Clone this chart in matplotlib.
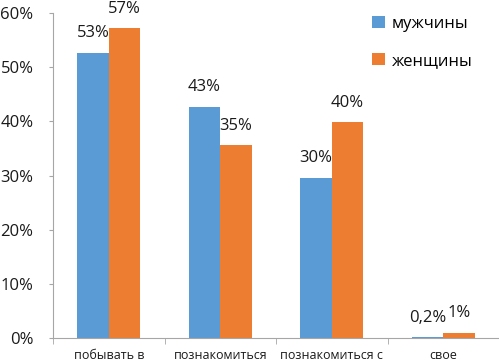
import numpy as np
import matplotlib
matplotlib.use('Agg')
import matplotlib.pyplot as plt

# data
categories = ['побывать в', 'познакомиться', 'познакомиться с', 'свое']
men = [52.7, 42.7, 29.6, 0.2]
women = [57.2, 35.6, 39.9, 1.0]
men_labels = ['53%', '43%', '30%', '0,2%']
women_labels = ['57%', '35%', '40%', '1%']
series_names = ['мужчины', 'женщины']

plt.rcParams['font.family'] = ['Open Sans', 'DejaVu Sans']

fig = plt.figure(figsize=(4.99, 3.61), dpi=100)
ax = fig.add_axes([53 / 499, 1 - 338 / 361, 446 / 499, 325 / 361])

x = np.arange(len(categories))
w = 0.283
b1 = ax.bar(x - w / 2, men, w, color='#5B9BD5', label=series_names[0])
b2 = ax.bar(x + w / 2, women, w, color='#ED7D31', label=series_names[1])

for bars, labs in [(b1, men_labels), (b2, women_labels)]:
    for rect, lab in zip(bars, labs):
        ax.annotate(lab, (rect.get_x() + rect.get_width() / 2, rect.get_height()),
                    xytext=(0, 11), textcoords='offset points',
                    ha='center', va='baseline', fontsize=12, color='#1a1a1a')

ax.set_xlim(-0.5, 3.5)
ax.set_ylim(0, 60)
ax.set_yticks(np.arange(0, 61, 10))
ax.set_yticklabels([f'{v}%' for v in range(0, 61, 10)])
ax.set_xticks(x)
ax.set_xticklabels(categories)
ax.set_xticks(np.arange(-0.5, 4, 1), minor=True)

for s in ['top', 'right']:
    ax.spines[s].set_visible(False)
for s in ['left', 'bottom']:
    ax.spines[s].set_color('#a6a6a6')

ax.tick_params(axis='y', length=3, color='#a6a6a6', pad=11, labelsize=12, labelcolor='#1a1a1a')
ax.tick_params(axis='x', which='major', length=0, pad=8, labelsize=9, labelcolor='#1a1a1a')
ax.tick_params(axis='x', which='minor', length=4, color='#a6a6a6')

ax.legend(loc='upper left', bbox_to_anchor=(372 / 499, 1 - 16 / 361),
          bbox_transform=fig.transFigure, frameon=False, fontsize=12,
          handlelength=0.75, handleheight=0.75, handletextpad=0.45,
          labelspacing=1.25, borderaxespad=0, borderpad=0)

fig.savefig('out.png', dpi=100)
